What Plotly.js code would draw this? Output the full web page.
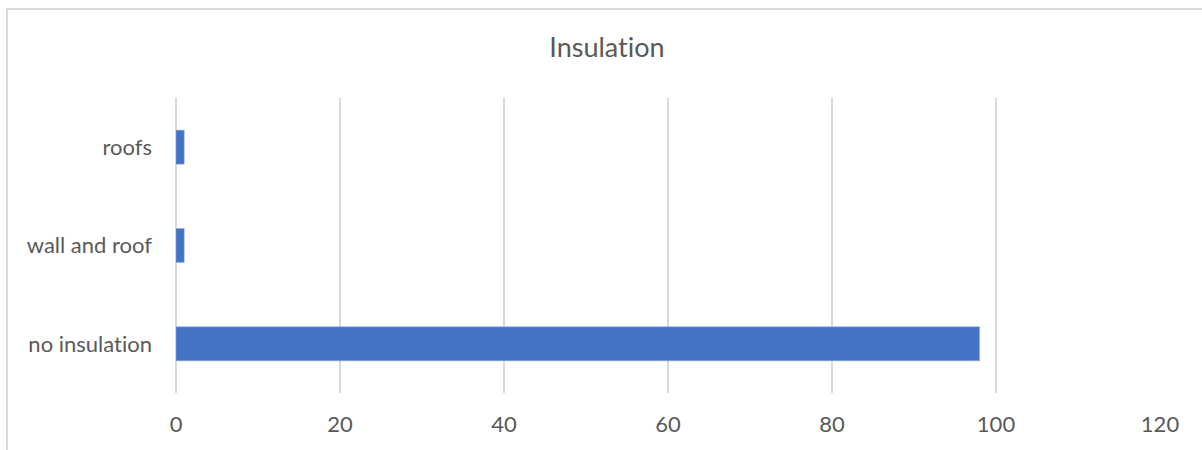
<!DOCTYPE html>
<html>
<head>
<meta charset="utf-8">
<script src="https://cdn.plot.ly/plotly-3.0.1.min.js"></script>
<style>
  html, body { margin: 0; padding: 0; overflow: hidden; background: #fff; }
  #wrap { position: relative; width: 1202px; height: 450px; overflow: hidden; }
  #chart { position: absolute; left: 0; top: 0; width: 1202px; height: 450px; }
  #chart text { font-variant-ligatures: none; font-feature-settings: "liga" 0, "clig" 0; }
  #frame { position: absolute; left: 6px; top: 8px; width: 1400px; height: 600px;
           border: 2px solid #d9d9d9; pointer-events: none; box-sizing: border-box; }
</style>
</head>
<body>
<div id="wrap">
  <div id="chart"></div>
  <div id="frame"></div>
</div>
<script>
const categories = ["no insulation", "wall and roof", "roofs"];
const values = [98, 1, 1];
const xTicks = [0, 20, 40, 60, 80, 100, 120];
const chartTitle = "Insulation";

const textColor = "#595959";
const fontFamily = "Lato, 'Open Sans', sans-serif";

Plotly.newPlot("chart", [{
  type: "bar",
  orientation: "h",
  x: values,
  y: categories,
  marker: { color: "#4472C4", line: { color: "#8faadc", width: 0.5 } },
  hoverinfo: "x+y"
}], {
  width: 1202,
  height: 450,
  margin: { l: 176, r: 42, t: 98, b: 57 },
  paper_bgcolor: "#ffffff",
  plot_bgcolor: "#ffffff",
  title: {
    text: chartTitle,
    font: { family: fontFamily, size: 27, color: textColor },
    x: 607 / 1202, xanchor: "center",
    y: 1 - 48 / 450, yanchor: "middle", yref: "container"
  },
  showlegend: false,
  bargap: 0.654,
  xaxis: {
    range: [0, 120],
    tickvals: xTicks,
    ticktext: xTicks.map(String),
    showgrid: true,
    gridcolor: "#d9d9d9",
    gridwidth: 1.3,
    zeroline: true,
    zerolinecolor: "#d9d9d9",
    zerolinewidth: 1.3,
    showline: false,
    ticks: "",
    ticklabelstandoff: 16,
    tickfont: { family: fontFamily, size: 22, color: textColor },
    fixedrange: true
  },
  yaxis: {
    type: "category",
    categoryorder: "array",
    categoryarray: categories,
    showgrid: false,
    zeroline: false,
    showline: false,
    ticks: "",
    ticklabelstandoff: 23,
    tickfont: { family: fontFamily, size: 22, color: textColor },
    automargin: false,
    fixedrange: true
  }
}, { displayModeBar: false, staticPlot: true });
</script>
</body>
</html>
